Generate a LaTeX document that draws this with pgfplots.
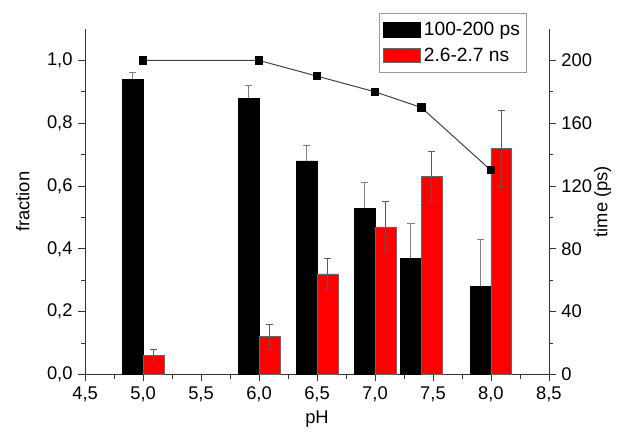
\documentclass[border=0pt]{standalone}
\usepackage{fontspec}
\setmainfont{Liberation Sans}
\usepackage{pgfplots}
\usepackage{pgfplotstable}
\pgfplotsset{compat=1.18}

% pH, black bars (100-200 ps) with error, red bars (2.6-2.7 ns) with error
\pgfplotstableread{
ph  b     be    r     re
5.0 0.94  0.02  0.06  0.02
6.0 0.88  0.04  0.12  0.04
6.5 0.68  0.05  0.32  0.05
7.0 0.53  0.08  0.47  0.08
7.4 0.37  0.11  0.63  0.08
8.0 0.28  0.15  0.72  0.12
}\fracdata

\pgfplotstableread{
ph  t
5.0 200
6.0 200
6.5 190
7.0 180
7.4 170
8.0 130
}\timedata

\pgfplotsset{
  common/.style={
    width=278pt, height=207pt, scale only axis,
    xmin=4.5, xmax=8.5,
    tick align=outside,
    major tick length=4pt, minor tick length=2.5pt,
    axis line style={black!80},
    every tick/.style={black!80},
    /pgf/number format/assume math mode=true,
    tick label style={font=\fontsize{11}{13}\selectfont},
    label style={font=\fontsize{11}{13}\selectfont},
  },
}

\begin{document}
\begin{tikzpicture}
\begin{axis}[common,
  ymin=0, ymax=1.1,
  axis x line*=bottom, axis y line*=left,
  xtick={4.5,5,...,8.5}, minor x tick num=1,
  ytick={0,0.2,...,1.0}, minor y tick num=1,
  xticklabel style={/pgf/number format/.cd, use comma, fixed, fixed zerofill, precision=1},
  yticklabel style={/pgf/number format/.cd, use comma, fixed, fixed zerofill, precision=1},
  xlabel={pH}, ylabel={fraction},
  xlabel style={at={(axis description cs:0.5,-0.128)}, anchor=center},
  ylabel style={at={(axis description cs:-0.134,0.5)}, anchor=center},
  legend style={at={(0.9526,1.046)}, anchor=north east, draw=black!40,
    font=\fontsize{11.5}{13}\selectfont, row sep=2pt, inner xsep=2pt, inner ysep=3pt,
    cells={anchor=west}},
  legend image code/.code={\draw[#1] (0cm,-0.15cm) rectangle (0.78cm,0.15cm);},
]
\coordinate (bl) at (rel axis cs:0,0);
\coordinate (tr) at (rel axis cs:1,1);
\addplot[ybar, bar width=0.18, bar shift=-0.09, fill=black, draw=black]
  table[x=ph, y=b] {\fracdata};
\addlegendentry{100-200 ps}
\addplot[ybar, bar width=0.18, bar shift=0.09, fill=red, draw=black!60]
  table[x=ph, y=r] {\fracdata};
\addlegendentry{2.6-2.7 ns}
% error bars, placed at the bar centres
\addplot[draw=none, no markers, forget plot,
  error bars/.cd, y dir=plus, y explicit,
  error bar style={draw=gray, line width=0.6pt},
  error mark options={rotate=90, draw=gray, mark size=2.2pt, line width=0.6pt}]
  table[x expr=\thisrow{ph}-0.09, y=b, y error=be] {\fracdata};
\addplot[draw=none, no markers, forget plot,
  error bars/.cd, y dir=both, y explicit,
  error bar style={draw=black!65, line width=0.6pt},
  error mark options={rotate=90, draw=black!65, mark size=2.2pt, line width=0.6pt}]
  table[x expr=\thisrow{ph}+0.09, y=r, y error=re] {\fracdata};
\end{axis}
\begin{axis}[common,
  ymin=0, ymax=220,
  axis x line=none, axis y line*=right,
  ytick={0,40,...,200}, minor y tick num=1,
  ylabel={time (ps)},
  ylabel style={at={(axis description cs:1.116,0.5)}, anchor=center},
]
\addplot[black!75, line width=0.6pt, mark=square*, mark size=2.2pt,
  mark options={black, solid}] table[x=ph, y=t] {\timedata};
\end{axis}
\pgfresetboundingbox
\path ([shift={(-51pt,-35.4pt)}]bl) rectangle ([shift={(42pt,17.4pt)}]tr);
\end{tikzpicture}
\end{document}
